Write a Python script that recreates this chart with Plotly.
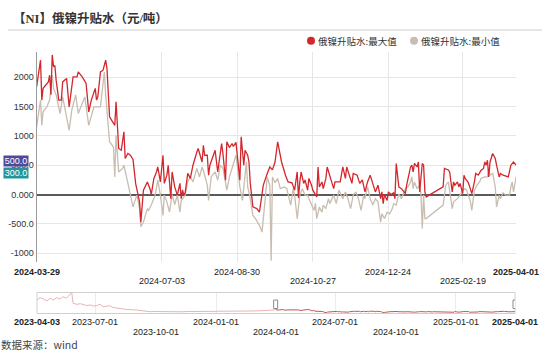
import plotly.graph_objects as go

# ---------------- data ----------------
max_dates = ["2024-03-29","2024-04-01","2024-04-02","2024-04-03","2024-04-07","2024-04-08","2024-04-09","2024-04-10","2024-04-11","2024-04-12",
"2024-04-13","2024-04-15","2024-04-17","2024-04-18","2024-04-21","2024-04-23","2024-04-26","2024-04-29","2024-04-30","2024-05-03",
"2024-05-06","2024-05-08","2024-05-10","2024-05-13","2024-05-14","2024-05-15","2024-05-17","2024-05-19","2024-05-21","2024-05-22",
"2024-05-24","2024-05-26","2024-05-28","2024-05-29","2024-05-31","2024-06-02","2024-06-04","2024-06-05","2024-06-07","2024-06-09",
"2024-06-11","2024-06-13","2024-06-15","2024-06-16","2024-06-17","2024-06-19","2024-06-22","2024-06-24","2024-06-25","2024-06-27",
"2024-06-29","2024-06-30","2024-07-02","2024-07-04","2024-07-05","2024-07-07","2024-07-08","2024-07-10","2024-07-11","2024-07-13",
"2024-07-15","2024-07-17","2024-07-18","2024-07-19","2024-07-20","2024-07-21","2024-07-23","2024-07-25","2024-07-27","2024-07-29",
"2024-07-30","2024-07-31","2024-08-01","2024-08-03","2024-08-04","2024-08-05","2024-08-07","2024-08-08","2024-08-09","2024-08-12",
"2024-08-13","2024-08-15","2024-08-17","2024-08-18","2024-08-19","2024-08-21","2024-08-22","2024-08-24","2024-08-26","2024-08-27",
"2024-08-29","2024-08-30","2024-09-01","2024-09-02","2024-09-04","2024-09-05","2024-09-07","2024-09-08","2024-09-09","2024-09-11",
"2024-09-14","2024-09-16","2024-09-19","2024-09-22","2024-09-24","2024-09-26","2024-09-28","2024-09-30","2024-10-03","2024-10-06",
"2024-10-08","2024-10-11","2024-10-13","2024-10-15","2024-10-16","2024-10-17","2024-10-18","2024-10-20","2024-10-21","2024-10-23",
"2024-10-24","2024-10-26","2024-10-27","2024-10-30","2024-10-31","2024-11-01","2024-11-03","2024-11-04","2024-11-06","2024-11-07",
"2024-11-09","2024-11-11","2024-11-12","2024-11-13","2024-11-15","2024-11-17","2024-11-19","2024-11-21","2024-11-22","2024-11-25",
"2024-11-26","2024-11-27","2024-11-30","2024-12-02","2024-12-04","2024-12-06","2024-12-08","2024-12-10","2024-12-12","2024-12-14",
"2024-12-16","2024-12-18","2024-12-19","2024-12-20","2024-12-21","2024-12-23","2024-12-24","2024-12-26","2024-12-28","2024-12-29",
"2024-12-30","2025-01-01","2025-01-03","2025-01-06","2025-01-07","2025-01-10","2025-01-11","2025-01-12","2025-01-13","2025-01-15",
"2025-01-16","2025-01-17","2025-01-19","2025-01-20","2025-01-21","2025-01-22","2025-02-04","2025-02-05","2025-02-08","2025-02-09",
"2025-02-11","2025-02-12","2025-02-13","2025-02-15","2025-02-16","2025-02-17","2025-02-19","2025-02-20","2025-02-21","2025-02-23",
"2025-02-24","2025-02-26","2025-02-28","2025-03-01","2025-03-03","2025-03-04","2025-03-05","2025-03-07","2025-03-08","2025-03-09",
"2025-03-10","2025-03-11","2025-03-12","2025-03-14","2025-03-16","2025-03-17","2025-03-19","2025-03-20","2025-03-22","2025-03-26",
"2025-03-27","2025-03-28","2025-03-30","2025-04-01"]
max_vals = [1835,2290,1610,1810,1920,2035,1700,2380,2180,2200,
1950,1610,1610,1920,1980,1495,2005,2005,2090,2005,
1895,1410,1610,1810,1610,1665,2090,2120,2290,2150,
1325,1240,1180,1580,785,755,1070,615,700,670,
600,190,-10,-125,-470,75,215,100,0,275,
385,470,215,670,190,330,500,-70,385,130,
-10,190,-70,80,-10,30,360,275,500,670,
725,785,700,555,840,670,670,330,500,670,
755,385,725,870,700,245,900,800,870,820,
890,640,245,985,500,755,670,555,190,-210,
-240,-300,160,360,470,420,555,900,555,330,
215,200,75,385,-60,215,385,190,250,75,
275,160,75,-40,470,130,215,100,275,470,
330,190,100,215,215,215,470,275,470,250,
190,360,330,190,250,45,215,330,190,45,
160,-70,45,-155,0,-100,45,0,30,-70,
530,130,100,15,160,470,500,385,530,470,
555,45,530,500,45,-40,130,445,420,385,
45,215,160,215,130,190,15,330,270,215,
160,15,215,360,330,385,410,445,555,500,
585,300,555,700,615,500,300,360,330,300,
385,500,555,500]

min_dates = ["2024-03-29","2024-04-01","2024-04-02","2024-04-03","2024-04-06","2024-04-08","2024-04-10","2024-04-11","2024-04-13","2024-04-16",
"2024-04-18","2024-04-23","2024-04-25","2024-04-28","2024-04-30","2024-05-05","2024-05-08","2024-05-12","2024-05-17","2024-05-20",
"2024-05-21","2024-05-24","2024-05-27","2024-05-28","2024-05-29","2024-05-31","2024-06-03","2024-06-04","2024-06-06","2024-06-08",
"2024-06-11","2024-06-13","2024-06-14","2024-06-16","2024-06-17","2024-06-19","2024-06-22","2024-06-23","2024-06-25","2024-06-28",
"2024-06-30","2024-07-02","2024-07-04","2024-07-05","2024-07-07","2024-07-09","2024-07-11","2024-07-13","2024-07-15","2024-07-17",
"2024-07-18","2024-07-21","2024-07-23","2024-07-25","2024-07-27","2024-07-30","2024-08-01","2024-08-03","2024-08-04","2024-08-07",
"2024-08-08","2024-08-10","2024-08-13","2024-08-15","2024-08-17","2024-08-19","2024-08-22","2024-08-24","2024-08-26","2024-08-27",
"2024-08-29","2024-08-30","2024-09-01","2024-09-03","2024-09-05","2024-09-06","2024-09-07","2024-09-09","2024-09-11","2024-09-13",
"2024-09-16","2024-09-18","2024-09-20","2024-09-22","2024-09-24","2024-09-25","2024-09-26","2024-09-28","2024-09-30","2024-10-02",
"2024-10-05","2024-10-07","2024-10-10","2024-10-12","2024-10-13","2024-10-15","2024-10-17","2024-10-19","2024-10-21","2024-10-23",
"2024-10-24","2024-10-26","2024-10-28","2024-10-29","2024-10-30","2024-11-01","2024-11-03","2024-11-04","2024-11-06","2024-11-08",
"2024-11-09","2024-11-12","2024-11-14","2024-11-16","2024-11-18","2024-11-19","2024-11-21","2024-11-23","2024-11-25","2024-11-27",
"2024-11-29","2024-12-01","2024-12-03","2024-12-05","2024-12-06","2024-12-08","2024-12-10","2024-12-12","2024-12-14","2024-12-16",
"2024-12-18","2024-12-19","2024-12-21","2024-12-23","2024-12-25","2024-12-27","2024-12-28","2024-12-30","2025-01-01","2025-01-03",
"2025-01-06","2025-01-08","2025-01-10","2025-01-11","2025-01-12","2025-01-13","2025-01-15","2025-01-17","2025-01-18","2025-01-19",
"2025-01-20","2025-01-21","2025-01-22","2025-02-04","2025-02-05","2025-02-06","2025-02-08","2025-02-11","2025-02-12","2025-02-15",
"2025-02-17","2025-02-19","2025-02-21","2025-02-22","2025-02-25","2025-02-26","2025-02-28","2025-03-02","2025-03-04","2025-03-05",
"2025-03-08","2025-03-10","2025-03-11","2025-03-12","2025-03-14","2025-03-16","2025-03-17","2025-03-19","2025-03-20","2025-03-22",
"2025-03-24","2025-03-27","2025-03-28","2025-03-29","2025-03-30","2025-04-01"]
min_vals = [1150,1610,1180,1410,1500,1610,2035,1810,1700,1380,
1665,1095,1440,1700,1380,1665,1180,1495,1495,2090,
1700,900,810,300,1010,385,445,500,300,100,
-210,-70,-10,-240,-550,-470,-240,-270,-180,-10,
245,-10,-355,-10,-125,-300,0,-170,-10,-300,
-100,-10,215,300,215,445,300,470,410,160,
-100,300,385,245,500,445,75,300,445,500,
670,500,130,-100,360,555,130,-70,-355,-410,
-525,-640,-180,300,150,-1130,300,200,275,100,
130,100,-180,100,-10,-410,-10,100,-10,-10,
-70,-180,-270,-150,-410,-215,-300,-180,-240,-70,
-155,-10,-155,75,-10,-70,45,-70,-240,-10,
45,-70,-270,-10,-70,130,-70,-180,-70,-125,
-470,-330,-410,-300,-330,-240,-155,-180,10,-70,
100,130,215,300,100,215,100,160,-10,-580,
-10,-410,-410,-180,-10,160,215,-240,-125,-70,
-10,75,100,75,-125,-270,75,160,215,275,
300,300,415,330,360,130,-210,-10,-70,30,
-10,-10,130,215,45,300]

# earlier history shown only in the zoom slider (max series)
hist_dates = ["2023-04-03","2023-04-08","2023-04-13","2023-04-18","2023-04-23","2023-04-28","2023-05-03","2023-05-08","2023-05-13","2023-05-18",
"2023-05-22","2023-05-26","2023-05-28","2023-06-03","2023-06-08","2023-06-13","2023-06-18","2023-06-23","2023-06-28","2023-07-03",
"2023-07-08","2023-07-13","2023-07-18","2023-07-23","2023-07-28","2023-08-03","2023-08-08","2023-08-13","2023-08-18","2023-08-23",
"2023-08-28","2023-09-02","2023-09-07","2023-09-12","2023-09-17","2023-09-22","2023-09-30","2023-10-08","2023-10-23","2023-11-07",
"2023-11-22","2023-12-08","2023-12-23","2024-01-07","2024-01-22","2024-02-07","2024-02-22","2024-03-08","2024-03-23"]
hist_vals = [10325,12280,11175,9475,11770,10325,12280,11175,13130,11770,
14575,16500,7520,6670,7180,6075,5650,6075,5225,5480,
6670,4630,5225,5480,3950,3270,3100,2675,2250,1825,
2000,1825,1400,975,800,380,550,380,465,300,
550,380,635,800,720,975,975,1145,1315]

main_ticks = ["2024-03-29","2024-07-03","2024-08-30","2024-10-27","2024-12-24","2025-02-19","2025-04-01"]
slider_ticks = ["2023-04-03","2023-07-01","2023-10-01","2024-01-01","2024-04-01","2024-07-01","2024-10-01","2025-01-01","2025-04-01"]
slider_grid = ["2023-07-01","2024-01-01","2024-07-01","2025-01-01"]
y_ticks = [-1000,-500,0,500,1000,1500,2000]
y_ticktext = ["-1000","-500.0","0.000","500.0","1000","1500","2000"]
series_names = ["俄镍升贴水:最大值","俄镍升贴水:最小值"]
window_start = "2024-04-01"

# ---------------- style ----------------
W, H = 550, 357
RED = "#d3262d"
GRAY = "#c8bdb0"
TXT = "#333333"
NUM_FONT = "Liberation Sans, Arial, sans-serif"
CJK_FONT = "Noto Sans CJK SC, sans-serif"

def px(p):
    return p / W

def py(p):
    return 1 - p / H

X0, X1 = 36.6, 516.1

fig = go.Figure()
fig.add_trace(go.Scatter(x=min_dates, y=min_vals, mode="lines", name=series_names[1],
                         line=dict(color=GRAY, width=1.3), xaxis="x", yaxis="y", showlegend=False))
fig.add_trace(go.Scatter(x=max_dates, y=max_vals, mode="lines", name=series_names[0],
                         line=dict(color=RED, width=1.3), xaxis="x", yaxis="y", showlegend=False))

# slider data shadow
pre_d = hist_dates + [d for d in max_dates if d <= window_start]
pre_v = hist_vals + [v for d, v in zip(max_dates, max_vals) if d <= window_start]
fig.add_trace(go.Scatter(x=pre_d, y=pre_v, mode="lines", line=dict(color="#eab3b3", width=1),
                         xaxis="x2", yaxis="y2", showlegend=False, hoverinfo="skip"))
fig.add_trace(go.Scatter(x=[d for d in max_dates if d >= window_start],
                         y=[v for d, v in zip(max_dates, max_vals) if d >= window_start],
                         mode="lines", line=dict(color="#c0564f", width=1),
                         xaxis="x2", yaxis="y2", showlegend=False, hoverinfo="skip"))

annotations = []
shapes = []

# title + divider
annotations.append(dict(text="<b>【NI】俄镍升贴水（元/吨）</b>", x=px(11), y=py(18), xref="paper", yref="paper",
                        xanchor="left", yanchor="middle", showarrow=False,
                        font=dict(family="Liberation Serif, Noto Sans CJK SC, serif", size=12.5, color=TXT)))
shapes.append(dict(type="line", xref="paper", yref="paper", x0=px(8), x1=px(542), y0=py(30), y1=py(30),
                   line=dict(color="#cccccc", width=1)))

# legend
for cx, col, name in [(311, RED, series_names[0]), (414, GRAY, series_names[1])]:
    shapes.append(dict(type="circle", xref="paper", yref="paper", x0=px(cx - 4), x1=px(cx + 4),
                       y0=py(40.7 + 4), y1=py(40.7 - 4), fillcolor=col, line=dict(width=0)))
    annotations.append(dict(text=name, x=px(cx + 5), y=py(41), xref="paper", yref="paper",
                            xanchor="left", yanchor="middle", showarrow=False,
                            font=dict(family=CJK_FONT, size=9.5, color=TXT)))

# main x tick labels (staggered)
for i, d in enumerate(main_ticks):
    edge = i == 0 or i == len(main_ticks) - 1
    upper = edge or i % 2 == 0
    annotations.append(dict(text=("<b>%s</b>" % d) if edge else d, x=d, xref="x", y=py(271.5 if upper else 280.5),
                            yref="paper", xanchor="center", yanchor="middle", showarrow=False,
                            font=dict(family=NUM_FONT, size=9, color="#222")))

# slider labels
for i, d in enumerate(slider_ticks):
    edge = i == 0 or i == len(slider_ticks) - 1
    upper = edge or i % 2 == 1
    annotations.append(dict(text=("<b>%s</b>" % d) if edge else d, x=d, xref="x2", y=py(322 if upper else 331.7),
                            yref="paper", xanchor="center", yanchor="middle", showarrow=False,
                            font=dict(family=NUM_FONT, size=9, color="#222")))

# slider frame + handles
shapes.append(dict(type="rect", xref="paper", yref="paper", x0=px(37), x1=px(515), y0=py(313.5), y1=py(292.5),
                   line=dict(color="#cfcfcf", width=1), fillcolor="rgba(0,0,0,0)"))
for d in [window_start, max_dates[-1]]:
    shapes.append(dict(type="rect", xref="x2", yref="paper", xsizemode="pixel", xanchor=d, x0=-2, x1=2,
                       y0=py(308.5), y1=py(300), line=dict(color="#8a8a8a", width=1), fillcolor="white"))

# last-value badges
for val, yc, col in [(max_vals[-1], 161.5, "#4f489b"), (min_vals[-1], 173, "#24959c")]:
    annotations.append(dict(text="%.1f" % val, x=px(3), y=py(yc), xref="paper", yref="paper",
                            xanchor="left", yanchor="middle", showarrow=False, bgcolor=col,
                            width=24, height=10, borderpad=0,
                            font=dict(family=NUM_FONT, size=9, color="white")))

# footer
annotations.append(dict(text="数据来源：wind", x=px(-1), y=py(344), xref="paper", yref="paper",
                        xanchor="left", yanchor="middle", showarrow=False,
                        font=dict(family=CJK_FONT, size=10.5, color="#444")))

fig.update_layout(
    width=W, height=H, margin=dict(l=0, r=0, t=0, b=0),
    paper_bgcolor="white", plot_bgcolor="white", showlegend=False,
    xaxis=dict(domain=[px(X0), px(X1)], range=[max_dates[0], max_dates[-1]], type="date",
               tickvals=main_ticks, showticklabels=False, showgrid=True, gridcolor="#e6e6e6", gridwidth=1,
               zeroline=False, showline=False, ticks="", anchor="y"),
    yaxis=dict(domain=[py(262), py(52)], range=[-1150, 2430], tickvals=y_ticks, ticktext=y_ticktext,
               tickfont=dict(family=NUM_FONT, size=9, color=TXT), showgrid=True, gridcolor="#e6e6e6",
               zeroline=True, zerolinecolor="#5a5a5a", zerolinewidth=1.5, showline=True,
               linecolor="#9a9a9a", linewidth=1, ticks="", anchor="x"),
    xaxis2=dict(domain=[px(37), px(515)], range=[hist_dates[0], max_dates[-1]], type="date",
                tickvals=slider_grid, showticklabels=False, showgrid=True, gridcolor="#ececec",
                zeroline=False, showline=False, ticks="", anchor="y2"),
    yaxis2=dict(domain=[py(313.5), py(292.5)], range=[-1150, 16700], visible=False, anchor="x2"),
    annotations=annotations, shapes=shapes,
)

fig.write_html("out.html", config={"displayModeBar": False},
               post_script="document.body.style.margin='0';document.body.style.overflow='hidden';")
